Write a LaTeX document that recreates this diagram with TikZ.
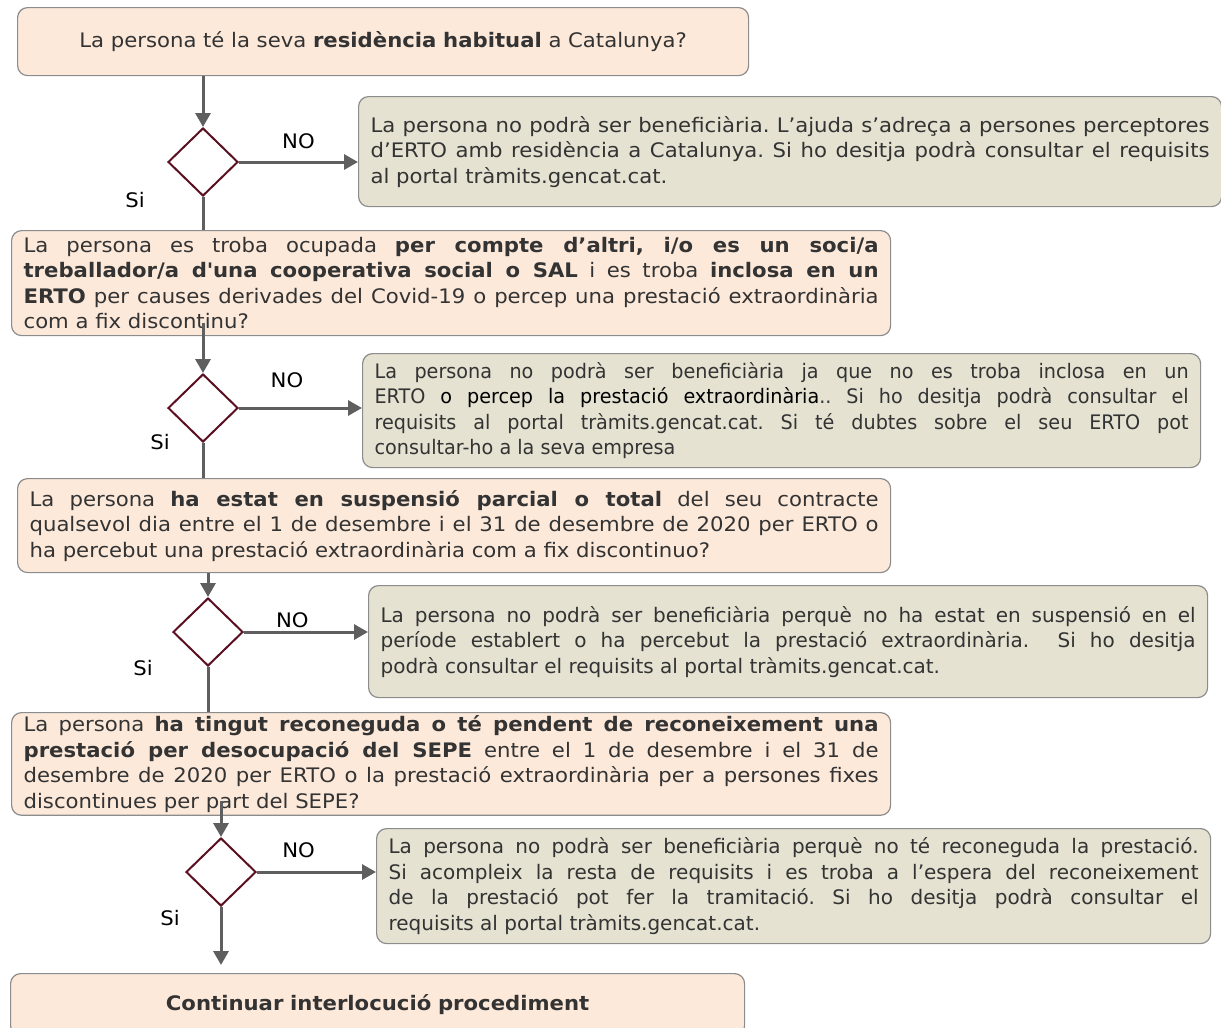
\documentclass[tikz,border=0pt]{standalone}
\usepackage{fontspec}
\setmainfont{DejaVu Sans}[FakeStretch=1.06]
\newfontfamily\plainsans{DejaVu Sans}
\newfontfamily\narrowsans{DejaVu Sans}[FakeStretch=0.96]
\usepackage{tikz}
\usetikzlibrary{shapes.geometric,arrows.meta}
\definecolor{peach}{HTML}{FCE9DA}
\definecolor{sand}{HTML}{E5E2D2}
\definecolor{rim}{HTML}{8C8C8C}
\definecolor{wine}{HTML}{5A1020}
\definecolor{arrowgray}{HTML}{5F5F5F}
\definecolor{ink}{HTML}{333333}
\tikzset{%
  question/.style = {shape=rectangle, rounded corners=10pt,%
                     draw=rim, line width=1.2pt, fill=peach, text=ink,%
                     align=justify, anchor=north west,%
                     inner xsep=12pt, inner ysep=3pt,%
                     font=\fontsize{20}{25.5}\selectfont\frenchspacing},%
  answer/.style   = {question, fill=sand},%
  decision/.style = {diamond, draw=wine, fill=white, line width=2pt,%
                     minimum width=70pt, minimum height=68pt, inner sep=0pt},%
  stem/.style     = {draw=arrowgray, line width=3pt},%
  flow/.style     = {stem, -{Triangle[length=14pt,width=15pt]}}%
}

\begin{document}
\begin{tikzpicture}[x=1pt,y=-1pt,tag/.style={font=\fontsize{20}{24}\selectfont,text=black,inner sep=0pt}]
	\useasboundingbox (0,0) rectangle (1221,1028);
	\node[question, align=center, text width=707pt, minimum height=68pt] (q1) at (17,7)
		{La persona té la seva \textbf{residència habitual} a Catalunya?};
	\node[answer, text width=839pt, minimum height=110pt] (n1) at (358,96)
		{La persona no podrà ser beneficiària. L’ajuda s’adreça a persones perceptores\linebreak
		 d’ERTO amb residència a Catalunya. Si ho desitja podrà consultar el requisits\linebreak
		 al portal tràmits.gencat.cat.};
	\node[question, text width=855pt, minimum height=105pt] (q2) at (11,230)
		{La persona es troba ocupada \textbf{per compte d’altri, i/o es un soci/a}\linebreak
		 \textbf{treballador/a d\textquotesingle una cooperativa social o SAL} i es troba \textbf{inclosa en un}\linebreak
		 \textbf{ERTO} per causes derivades del Covid-19 o percep una prestació extraordinària\linebreak
		 com a fix discontinu?};
	\node[answer, text width=814pt, minimum height=114pt, font=\fontsize{20}{25.5}\narrowsans\frenchspacing] (n2) at (362,353)
		{La persona no podrà ser beneficiària ja que no es troba inclosa en un\linebreak
		 ERTO {\color{black}o percep la prestació extraordinària}.. Si ho desitja podrà consultar el\linebreak
		 requisits al portal tràmits.gencat.cat. Si té dubtes sobre el seu ERTO pot\linebreak
		 consultar-ho a la seva empresa};
	\node[question, text width=849pt, minimum height=94pt] (q3) at (17,478)
		{La persona \textbf{ha estat en suspensió parcial o total} del seu contracte\linebreak
		 qualsevol dia entre el 1 de desembre i el 31 de desembre de 2020 per ERTO o\linebreak
		 ha percebut una prestació extraordinària com a fix discontinuo?};
	\node[answer, text width=815pt, minimum height=112pt, font=\fontsize{20}{25.5}\plainsans\frenchspacing] (n3) at (368,585)
		{La persona no podrà ser beneficiària perquè no ha estat en suspensió en el\linebreak
		 període establert o ha percebut la prestació extraordinària.\ \ Si ho desitja\linebreak
		 podrà consultar el requisits al portal tràmits.gencat.cat.};
	\node[question, text width=855pt, minimum height=98pt] (q4) at (11,712)
		{La persona \textbf{ha tingut reconeguda o té pendent de reconeixement una}\linebreak
		 \textbf{prestació per desocupació del SEPE} entre el 1 de desembre i el 31 de\linebreak
		 desembre de 2020 per ERTO o la prestació extraordinària per a persones fixes\linebreak
		 discontinues per part del SEPE?};
	\node[answer, text width=810pt, minimum height=115pt, font=\fontsize{20}{25.5}\plainsans\frenchspacing] (n4) at (376,828)
		{La persona no podrà ser beneficiària perquè no té reconeguda la prestació.\linebreak
		 Si acompleix la resta de requisits i es troba a l’espera del reconeixement\linebreak
		 de la prestació pot fer la tramitació. Si ho desitja podrà consultar el\linebreak
		 requisits al portal tràmits.gencat.cat.};
	\node[question, align=center, text width=710pt, minimum height=62pt] (q5) at (10,973)
		{\textbf{Continuar interlocució procediment}};
	% decisions
	\node[decision] (d1) at (203,162) {};
	\node[decision] (d2) at (203,408) {};
	\node[decision] (d3) at (208,632) {};
	\node[decision] (d4) at (221,872) {};
	\node[tag] (s1) at (135,200) {Si};
	\node[tag] (s2) at (160,442) {Si};
	\node[tag] (s3) at (143,668) {Si};
	\node[tag] (s4) at (170,918) {Si};
	% connectors
	\draw[flow] (q1.south -| d1) -- (d1.north);
	\draw[flow] (d1.east) -- node[tag, above=12pt] (no1) {NO} (d1.east -| n1.west);
	\draw[stem] (d1.south) -- (d1.south |- q2.north);
	\draw[flow] ([yshift=13pt]q2.south -| d2) -- (d2.north);
	\draw[flow] (d2.east) -- node[tag, pos=.39, above=19pt] (no2) {NO} (d2.east -| n2.west);
	\draw[stem] (d2.south) -- (d2.south |- q3.north);
	\draw[flow] (q3.south -| d3) -- (d3.north);
	\draw[flow] (d3.east) -- node[tag, pos=.39, above=3pt] (no3) {NO} (d3.east -| n3.west);
	\draw[stem] (d3.south) -- (d3.south |- q4.north);
	\draw[flow] ([yshift=15pt]q4.south -| d4) -- (d4.north);
	\draw[flow] (d4.east) -- node[tag, pos=.35, above=13pt] (no4) {NO} (d4.east -| n4.west);
	\draw[flow, shorten >=8pt] (d4.south) -- (d4.south |- q5.north);
\end{tikzpicture}
\end{document}
